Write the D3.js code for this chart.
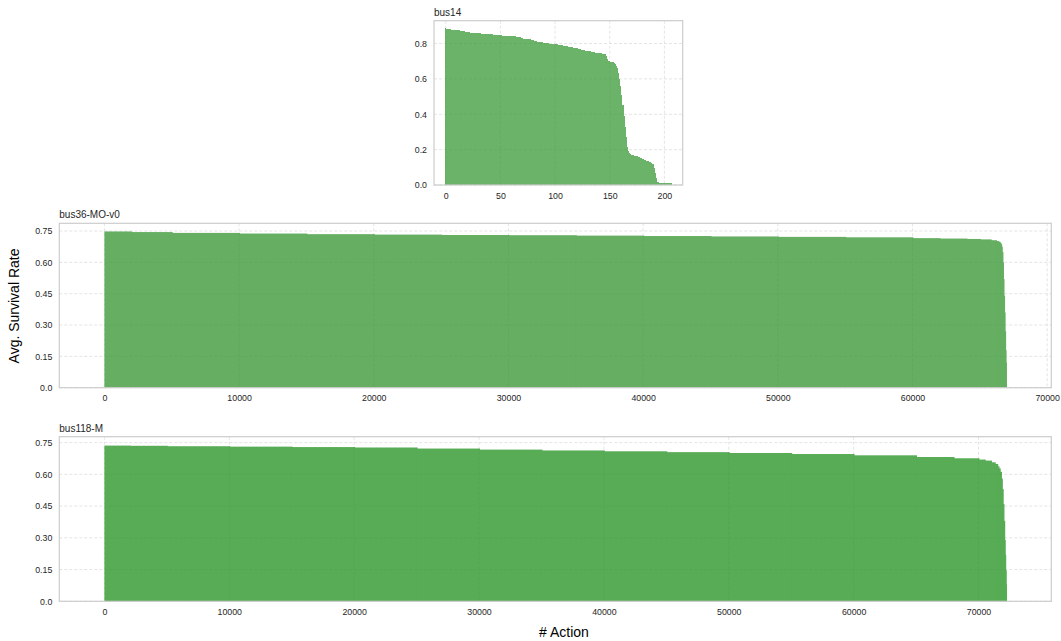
<!DOCTYPE html>
<html>
<head>
<meta charset="utf-8">
<script src="https://cdn.jsdelivr.net/npm/d3@7"></script>
<style>
  html, body { margin: 0; padding: 0; background: #fff; }
  svg { display: block; font-family: "Liberation Sans", Arial, sans-serif; }
</style>
</head>
<body>
<svg id="chart" width="1061" height="641"></svg>
<script>
// ---------------- DATA ----------------
// bus14: one bar per action (sorted avg. survival rate)
const bus14Values = [
  0.885,0.883,0.882,0.881,0.880,0.879,0.879,0.878,0.877,0.877,
  0.876,0.875,0.874,0.873,0.872,0.871,0.869,0.868,0.867,0.866,
  0.865,0.864,0.863,0.862,0.862,0.861,0.860,0.860,0.859,0.858,
  0.858,0.857,0.857,0.856,0.856,0.855,0.854,0.854,0.853,0.853,
  0.852,0.852,0.851,0.851,0.850,0.850,0.849,0.849,0.848,0.848,
  0.847,0.846,0.845,0.845,0.844,0.844,0.843,0.843,0.843,0.842,
  0.842,0.841,0.841,0.840,0.840,0.839,0.839,0.838,0.836,0.833,
  0.830,0.828,0.827,0.826,0.826,0.825,0.824,0.823,0.822,0.820,
  0.818,0.816,0.814,0.812,0.810,0.809,0.808,0.807,0.806,0.805,
  0.804,0.803,0.802,0.802,0.801,0.800,0.800,0.799,0.799,0.798,
  0.797,0.796,0.795,0.794,0.793,0.792,0.790,0.789,0.788,0.787,
  0.786,0.784,0.783,0.782,0.781,0.780,0.779,0.777,0.776,0.775,
  0.773,0.771,0.770,0.768,0.766,0.764,0.763,0.761,0.760,0.758,
  0.757,0.756,0.755,0.754,0.752,0.751,0.750,0.749,0.748,0.747,
  0.746,0.745,0.744,0.743,0.742,0.741,0.740,0.730,0.712,0.703,
  0.700,0.698,0.696,0.693,0.690,0.685,0.675,0.660,0.635,0.600,
  0.560,0.510,0.450,0.390,0.330,0.270,0.215,0.190,0.180,0.175,
  0.172,0.170,0.168,0.166,0.165,0.163,0.161,0.158,0.155,0.152,
  0.148,0.145,0.142,0.140,0.138,0.135,0.132,0.128,0.124,0.121,
  0.118,0.095,0.070,0.040,0.015,0.014,0.013,0.013,0.013,0.012,
  0.012,0.012,0.012,0.011,0.011,0.011,0.010
];

// bus36-MO-v0: values read at sampled action ranks (each holds until the next rank)
const bus36Count = 66960;
const bus36Actions = [0, 2000, 5000, 10000, 15000, 20000, 25000, 30000, 35000, 40000,
  45000, 50000, 55000, 60000, 62000, 64000, 65000, 65800, 66200, 66350,
  66450, 66520, 66580, 66630, 66680, 66720, 66760, 66800, 66840, 66880,
  66910, 66940];
const bus36Values = [0.748, 0.745, 0.741, 0.738, 0.735, 0.733, 0.731, 0.730, 0.728, 0.726,
  0.724, 0.722, 0.720, 0.716, 0.714, 0.712, 0.710, 0.706, 0.702, 0.699,
  0.695, 0.688, 0.675, 0.650, 0.600, 0.520, 0.440, 0.360, 0.270, 0.180,
  0.120, 0.050];

// bus118-M: values read at sampled action ranks
const bus118Count = 72220;
const bus118Actions = [0, 2000, 5000, 10000, 15000, 20000, 25000, 30000, 35000, 40000,
  45000, 50000, 55000, 60000, 65000, 68000, 70000, 70500, 71000, 71300,
  71500, 71600, 71700, 71800, 71870, 71940, 72000, 72060, 72100, 72140,
  72180, 72205];
const bus118Values = [0.736, 0.735, 0.733, 0.731, 0.729, 0.727, 0.722, 0.717, 0.713, 0.709,
  0.705, 0.701, 0.696, 0.690, 0.682, 0.676, 0.670, 0.665, 0.657, 0.649,
  0.638, 0.628, 0.612, 0.580, 0.530, 0.460, 0.380, 0.290, 0.220, 0.147,
  0.080, 0.030];

const bus14XTicks = [0, 50, 100, 150, 200];
const bus14YTicks = [0.0, 0.2, 0.4, 0.6, 0.8];
const bus14YLabels = ["0.0", "0.2", "0.4", "0.6", "0.8"];
const bigXTicks = [0, 10000, 20000, 30000, 40000, 50000, 60000, 70000];
const bigYTicks = [0.0, 0.15, 0.30, 0.45, 0.60, 0.75];
const bigYLabels = ["0.0", "0.15", "0.30", "0.45", "0.60", "0.75"];

// ---------------- DRAW ----------------
const svg = d3.select("#chart");

function panel(opt) {
  const g = svg.append("g");
  const n = opt.count;
  const R = n - 0.2;
  const x = d3.scaleLinear()
    .domain([-0.4 - 0.05 * R, n - 0.6 + 0.05 * R])
    .range([opt.left, opt.right]);
  const y = d3.scaleLinear()
    .domain([0, opt.yMax])
    .range([opt.bottom, opt.top]);

  // grid
  g.append("g").selectAll("line").data(opt.yTicks).join("line")
    .attr("x1", opt.left).attr("x2", opt.right)
    .attr("y1", d => y(d)).attr("y2", d => y(d))
    .attr("stroke", "#dddddd").attr("stroke-width", 0.8)
    .attr("stroke-dasharray", "3,2");
  g.append("g").selectAll("line").data(opt.xTicks).join("line")
    .attr("x1", d => x(d)).attr("x2", d => x(d))
    .attr("y1", opt.top).attr("y2", opt.bottom)
    .attr("stroke", "#dddddd").attr("stroke-width", 0.8)
    .attr("stroke-dasharray", "3,2");

  // bars
  const bars = g.append("g").attr("opacity", opt.opacity);
  if (!opt.actions) {
    bars.attr("shape-rendering", "crispEdges");
    bars.selectAll("rect").data(opt.values).join("rect")
      .attr("x", (d, i) => x(i - 0.4))
      .attr("width", (d, i) => x(i + 0.4) - x(i - 0.4) + 0.25)
      .attr("y", d => y(d))
      .attr("height", d => y(0) - y(d))
      .attr("fill", opt.color);
  } else {
    const acts = opt.actions;
    const rows = opt.values.map((v, i) => ({
      a0: acts[i],
      a1: i + 1 < acts.length ? acts[i + 1] : n,
      v: v
    }));
    bars.selectAll("rect").data(rows).join("rect")
      .attr("x", d => x(d.a0 - 0.4))
      .attr("width", d => (d.a1 === n ? x(n - 0.6) : x(d.a1 - 0.4) + 1) - x(d.a0 - 0.4))
      .attr("y", d => y(d.v))
      .attr("height", d => y(0) - y(d.v))
      .attr("fill", opt.color);
  }

  // frame
  g.append("rect")
    .attr("x", opt.left).attr("y", opt.top)
    .attr("width", opt.right - opt.left).attr("height", opt.bottom - opt.top)
    .attr("fill", "none").attr("stroke", "#cccccc").attr("stroke-width", 1.2);

  // axes
  const ax = g.append("g").attr("transform", `translate(0,${opt.bottom})`)
    .call(d3.axisBottom(x).tickValues(opt.xTicks).tickSize(0).tickPadding(0).tickFormat(d3.format("d")));
  ax.select(".domain").remove();
  ax.selectAll("text").attr("dy", null).attr("y", 13.5)
    .attr("font-size", 8.8).attr("fill", "#262626")
    .attr("font-family", "'Liberation Sans', Arial, sans-serif");

  const ay = g.append("g").attr("transform", `translate(${opt.left},0)`)
    .call(d3.axisLeft(y).tickValues(opt.yTicks).tickSize(0).tickPadding(7)
      .tickFormat((d, i) => opt.yLabels[i]));
  ay.select(".domain").remove();
  ay.selectAll("text").attr("font-size", 8.8).attr("fill", "#262626")
    .attr("font-family", "'Liberation Sans', Arial, sans-serif");

  // title
  g.append("text").attr("x", opt.left).attr("y", opt.top - 5)
    .attr("font-size", 10).attr("fill", "#262626").text(opt.title);
}

panel({
  title: "bus14", count: bus14Values.length, values: bus14Values,
  left: 434, right: 682.7, top: 20.7, bottom: 185, yMax: 0.929,
  xTicks: bus14XTicks, yTicks: bus14YTicks, yLabels: bus14YLabels,
  color: "#3a9a37", opacity: 0.75
});

panel({
  title: "bus36-MO-v0", count: bus36Count, actions: bus36Actions, values: bus36Values,
  left: 59.3, right: 1051.3, top: 223.3, bottom: 387.7, yMax: 0.787,
  xTicks: bigXTicks, yTicks: bigYTicks, yLabels: bigYLabels,
  color: "#3f9b3c", opacity: 0.8
});

panel({
  title: "bus118-M", count: bus118Count, actions: bus118Actions, values: bus118Values,
  left: 59.3, right: 1051.3, top: 436.7, bottom: 601.3, yMax: 0.778,
  xTicks: bigXTicks, yTicks: bigYTicks, yLabels: bigYLabels,
  color: "#339a30", opacity: 0.82
});

// axis labels
svg.append("text")
  .attr("transform", "translate(19,306) rotate(-90)")
  .attr("text-anchor", "middle").attr("font-size", 14).attr("fill", "#000")
  .text("Avg. Survival Rate");

svg.append("text")
  .attr("x", 564).attr("y", 637)
  .attr("text-anchor", "middle").attr("font-size", 14).attr("fill", "#000")
  .text("# Action");
</script>
</body>
</html>
